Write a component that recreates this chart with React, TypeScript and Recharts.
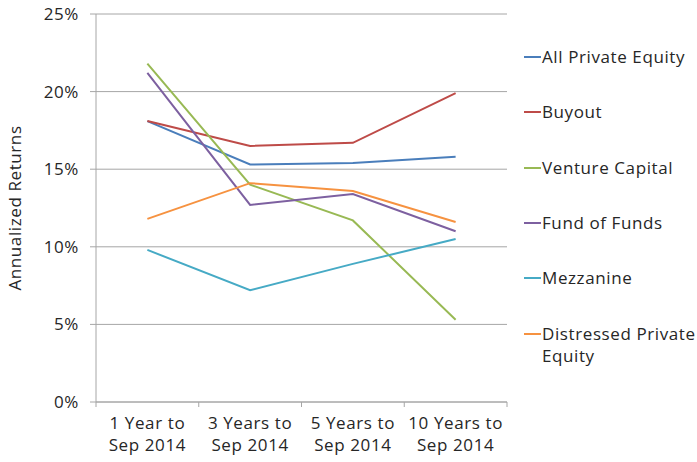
import { LineChart, Line, XAxis, YAxis, CartesianGrid, Legend } from "recharts";

const categories = [
  "1 Year to\nSep 2014",
  "3 Years to\nSep 2014",
  "5 Years to\nSep 2014",
  "10 Years to\nSep 2014",
];

const allPrivateEquity = [18.1, 15.3, 15.4, 15.8];
const buyout = [18.1, 16.5, 16.7, 19.9];
const ventureCapital = [21.8, 14.0, 11.7, 5.3];
const fundOfFunds = [21.2, 12.7, 13.4, 11.0];
const mezzanine = [9.8, 7.2, 8.9, 10.5];
const distressed = [11.8, 14.1, 13.6, 11.6];

const yTicks = [0, 5, 10, 15, 20, 25];

const SERIES = [
  { key: "ape", name: "All Private Equity", color: "#4A7EBB", values: allPrivateEquity },
  { key: "buyout", name: "Buyout", color: "#BE4B48", values: buyout },
  { key: "vc", name: "Venture Capital", color: "#98B954", values: ventureCapital },
  { key: "fof", name: "Fund of Funds", color: "#7D60A0", values: fundOfFunds },
  { key: "mezz", name: "Mezzanine", color: "#46AAC5", values: mezzanine },
  { key: "dist", name: "Distressed Private Equity", color: "#F69240", values: distressed },
];

const data = categories.map((c, i) => {
  const row: Record<string, string | number> = { cat: c };
  SERIES.forEach((s) => (row[s.key] = s.values[i]));
  return row;
});

const FONT = "'Open Sans', sans-serif";
const FS = 17;
const LS = 0.6;
const TEXT = "#262626";
const AXIS = "#A6A6A6";

const W = 697;
const H = 462;
const MARGIN = { top: 14, right: 17, bottom: 0, left: 0 };
const Y_WIDTH = 96;
const LEGEND_W = 173;
const HALF_BAND = (W - Y_WIDTH - MARGIN.right - LEGEND_W) / categories.length / 2;

const textStyle = { fontSize: FS, fontFamily: FONT, letterSpacing: LS };

function XTick(props: any) {
  const { x, y, payload, index } = props;
  const [l1, l2] = String(payload.value).split("\n");
  return (
    <g>
      <line x1={x - HALF_BAND} y1={y} x2={x - HALF_BAND} y2={y + 5} stroke={AXIS} />
      {index === categories.length - 1 && (
        <line x1={x + HALF_BAND} y1={y} x2={x + HALF_BAND} y2={y + 5} stroke={AXIS} />
      )}
      <text x={x} y={y + 27} textAnchor="middle" fill={TEXT} style={textStyle}>
        {l1}
      </text>
      <text x={x} y={y + 49} textAnchor="middle" fill={TEXT} style={textStyle}>
        {l2}
      </text>
    </g>
  );
}

function LegendContent() {
  return (
    <div style={{ position: "relative", ...textStyle, color: TEXT }}>
      {SERIES.map((s, i) => (
        <div
          key={s.key}
          style={{ position: "absolute", top: i * 55.3, left: 0, display: "flex", alignItems: "flex-start" }}
        >
          <div style={{ width: 17, height: 2, background: s.color, marginTop: 10 }} />
          <div style={{ width: 156, lineHeight: "22px", marginLeft: 1 }}>{s.name}</div>
        </div>
      ))}
    </div>
  );
}

export default function App() {
  return (
    <div style={{ position: "absolute", left: 0, top: 0, width: W, height: H, background: "#fff" }}>
      <LineChart width={W} height={H} data={data} margin={MARGIN}>
        <CartesianGrid vertical={false} stroke={AXIS} />
        <XAxis
          dataKey="cat"
          scale="band"
          stroke={AXIS}
          tickLine={false}
          tickSize={0}
          tickMargin={0}
          height={60}
          interval={0}
          tick={<XTick />}
        />
        <YAxis
          domain={[0, 25]}
          ticks={yTicks}
          width={Y_WIDTH}
          stroke={AXIS}
          tickSize={6}
          tickMargin={11}
          tickFormatter={(v) => `${v}%`}
          tick={{ fill: TEXT, ...textStyle }}
          label={{
            value: "Annualized Returns",
            angle: -90,
            position: "insideLeft",
            offset: 15,
            style: { textAnchor: "middle", fill: TEXT, ...textStyle },
          }}
        />
        <Legend
          layout="vertical"
          align="right"
          verticalAlign="top"
          content={<LegendContent />}
          wrapperStyle={{ left: 524, top: 46, width: LEGEND_W }}
        />
        {SERIES.map((s) => (
          <Line
            key={s.key}
            dataKey={s.key}
            name={s.name}
            stroke={s.color}
            strokeWidth={2}
            dot={false}
            activeDot={false}
            isAnimationActive={false}
          />
        ))}
      </LineChart>
    </div>
  );
}
